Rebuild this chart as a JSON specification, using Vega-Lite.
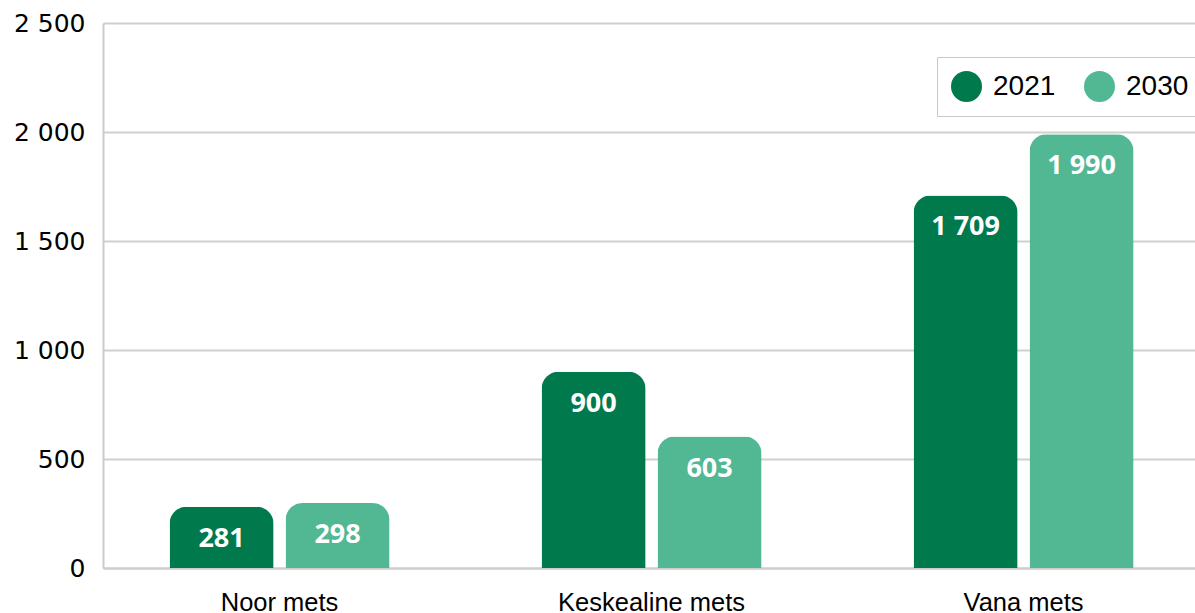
{
  "$schema": "https://vega.github.io/schema/vega-lite/v6.json",
  "width": 1092,
  "height": 545,
  "autosize": {"type": "none"},
  "padding": {"left": 103, "top": 23, "right": 0, "bottom": 45},
  "background": "white",
  "config": {
    "view": {"stroke": null},
    "font": "Liberation Sans"
  },
  "data": {
    "values": [
      {"kat": "Noor mets", "aasta": "2021", "vaartus": 281},
      {"kat": "Noor mets", "aasta": "2030", "vaartus": 298},
      {"kat": "Keskealine mets", "aasta": "2021", "vaartus": 900},
      {"kat": "Keskealine mets", "aasta": "2030", "vaartus": 603},
      {"kat": "Vana mets", "aasta": "2021", "vaartus": 1709},
      {"kat": "Vana mets", "aasta": "2030", "vaartus": 1990}
    ]
  },
  "transform": [
    {"calculate": "replace(format(datum.vaartus, ','), ',', ' ')", "as": "silt"}
  ],
  "encoding": {
    "x": {
      "field": "kat",
      "type": "nominal",
      "sort": ["Noor mets", "Keskealine mets", "Vana mets"],
      "scale": {"paddingInner": 0.4086, "paddingOuter": 0.172, "align": 0.52},
      "axis": {
        "title": null,
        "labelAngle": 0,
        "labelLimit": 0,
        "ticks": false,
        "labelPadding": 22,
        "labelFontSize": 25.5,
        "labelColor": "#000000",
        "domainColor": "#cccccc",
        "domainWidth": 2
      }
    },
    "xOffset": {
      "field": "aasta",
      "type": "nominal",
      "scale": {"paddingInner": 0.103, "paddingOuter": 0}
    },
    "y": {
      "field": "vaartus",
      "type": "quantitative",
      "scale": {"domain": [0, 2500], "nice": false},
      "axis": {
        "title": null,
        "values": [0, 500, 1000, 1500, 2000, 2500],
        "labelExpr": "replace(format(datum.value, ','), ',', ' ')",
        "ticks": false,
        "labelPadding": 18,
        "labelFont": "DejaVu Sans",
        "labelFontSize": 25,
        "labelColor": "#000000",
        "domainColor": "#cccccc",
        "domainWidth": 2,
        "gridColor": "#d0d0d0",
        "gridWidth": 2
      }
    }
  },
  "layer": [
    {
      "mark": {"type": "bar", "cornerRadiusTopLeft": 17, "cornerRadiusTopRight": 17},
      "encoding": {
        "color": {
          "field": "aasta",
          "type": "nominal",
          "scale": {"domain": ["2021", "2030"], "range": ["#007a4d", "#52b893"]},
          "legend": {
            "title": null,
            "orient": "none",
            "legendX": 834,
            "legendY": 34,
            "direction": "horizontal",
            "symbolType": "circle",
            "symbolSize": 961,
            "symbolStrokeWidth": 0,
            "labelFontSize": 28,
            "labelColor": "#000000",
            "labelOffset": 11,
            "columnPadding": 28,
            "padding": 14,
            "strokeColor": "#c8c8c8"
          }
        }
      }
    },
    {
      "mark": {
        "type": "text",
        "baseline": "middle",
        "dy": 32,
        "fontSize": 27,
        "fontWeight": "bold",
        "font": "Open Sans",
        "color": "white"
      },
      "encoding": {
        "text": {"field": "silt", "type": "nominal"}
      }
    }
  ]
}
